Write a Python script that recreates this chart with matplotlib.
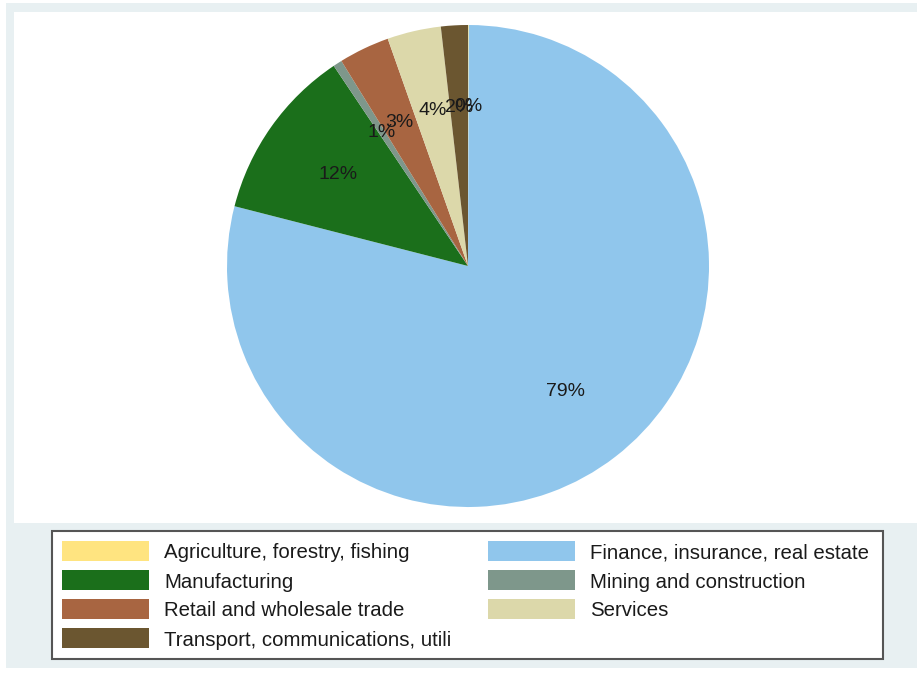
import matplotlib.pyplot as plt
from matplotlib.patches import Rectangle

plt.rcParams['font.family'] = ['Liberation Sans', 'DejaVu Sans']

# data
sectors = ['Agriculture, forestry, fishing', 'Finance, insurance, real estate',
           'Manufacturing', 'Mining and construction',
           'Retail and wholesale trade', 'Services',
           'Transport, communications, utili']
shares = [0.05, 78.9, 11.6, 0.6, 3.4, 3.6, 1.8]
colors = ['#FFE480', '#90C6EC', '#1B6F1B', '#7E978B', '#A86541', '#DCD8AA', '#6B5630']

W, H = 917, 673
fig = plt.figure(figsize=(W / 100, H / 100), dpi=100)
fig.patch.set_facecolor('white')

def fig_rect(x0, y0, x1, y1, **kw):
    # pixel box (top-left origin) -> figure fraction
    r = Rectangle((x0 / W, 1 - y1 / H), (x1 - x0) / W, (y1 - y0) / H,
                  transform=fig.transFigure, **kw)
    fig.add_artist(r)
    return r

# outer grey graph region and white plot region
fig_rect(6, 3, 930, 668, facecolor='#E8F0F2', edgecolor='none', zorder=0)
fig_rect(14, 12, 930, 523, facecolor='white', edgecolor='none', zorder=0)

# pie
cx, cy, r = 468, 266, 241
ax = fig.add_axes([(cx - r) / W, 1 - (cy + r) / H, 2 * r / W, 2 * r / H])
ax.pie(shares, colors=colors, startangle=90, counterclock=False,
       autopct='%1.0f%%', pctdistance=0.66, radius=1,
       wedgeprops=dict(linewidth=0),
       textprops=dict(fontsize=14, color='#1a1a1a'))
ax.set_xlim(-1, 1)
ax.set_ylim(-1, 1)
ax.set_aspect('equal')
ax.axis('off')

# legend box
fig_rect(52, 531, 883, 659, facecolor='white', edgecolor='#555555',
         linewidth=1.5, zorder=1)
col_x = [(62, 164), (488, 590)]
row_y = [551, 580, 609, 638]
for i, (name, c) in enumerate(zip(sectors, colors)):
    row, col = divmod(i, 2)
    sx, tx = col_x[col]
    y = row_y[row]
    fig_rect(sx, y - 10, sx + 87, y + 10, facecolor=c, edgecolor='none', zorder=2)
    fig.text(tx / W, 1 - (y + 2) / H, name, fontsize=14.7, color='#1a1a1a',
             va='center', ha='left', zorder=3)

plt.savefig('out.png', dpi=100)
